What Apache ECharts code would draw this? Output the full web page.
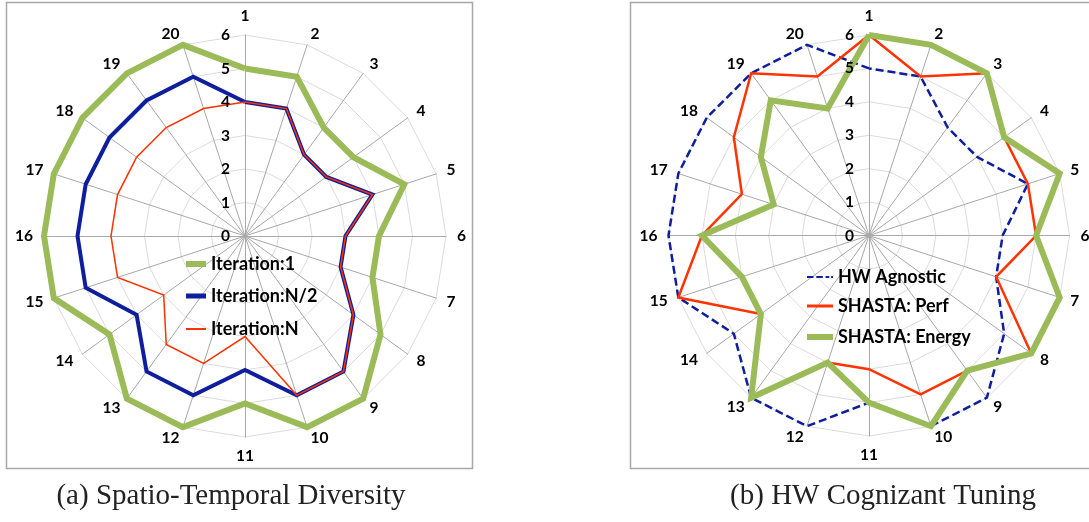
<!DOCTYPE html>
<html><head><meta charset="utf-8">
<script src="https://cdn.jsdelivr.net/npm/echarts@6/dist/echarts.min.js"></script>
<style>html,body{margin:0;padding:0;background:#fff}#c{width:1089px;height:522px}</style>
</head><body><div id="c"></div>
<script>
const categories = ['1','2','3','4','5','6','7','8','9','10','11','12','13','14','15','16','17','18','19','20'];
const radiusTicks = ['0','1','2','3','4','5','6'];
// (a) Spatio-Temporal Diversity
const iteration1    = [5,5,4,4,5,4,4,5,6,6,5,6,6,5,6,6,6,6,6,6];
const iterationHalf = [4,4,3,3,4,3,3,4,5,5,4,5,5,4,5,5,5,5,5,5];
const iterationN    = [4,4,3,3,4,3,3,4,5,5,3,4,4,3,4,4,4,4,4,4];
// (b) HW Cognizant Tuning
const hwAgnostic   = [5,5,4,4,5,4,4,5,6,6,5,6,6,5,6,6,6,6,6,6];
const shastaPerf   = [6,5,6,5,5,5,4,6,5,5,4,4,6,4,6,5,4,5,6,5];
const shastaEnergy = [6,6,6,5,6,5,6,6,5,6,5,4,6,4,4,5,3,4,5,4];
const captions = ['(a) Spatio-Temporal Diversity', '(b) HW Cognizant Tuning'];

// radar runs counter-clockwise; reorder so categories run clockwise from the top
const order = categories.map((_, i) => (categories.length - i) % categories.length);
const reorder = arr => order.map(i => arr[i]);
const indicator = order.map(i => ({ name: categories[i], min: 0, max: 6 }));

const FONT = 'Lato';
const GREEN = '#9BBB59', BLUE = '#0E1E9C', RED = '#FF3300';

function radarCfg(cx, cy, r) {
  return {
    center: [cx, cy], radius: r, startAngle: 90, shape: 'polygon', splitNumber: 6,
    indicator: indicator,
    axisName: { color: '#000', fontFamily: FONT, fontWeight: 'bold', fontSize: 15.5 },
    nameGap: 11,
    axisLine: { lineStyle: { color: '#a8a8a8', width: 1 } },
    splitLine: { lineStyle: { color: '#dcdcdc', width: 1 } },
    splitArea: { show: false },
    axisTick: { show: false }, axisLabel: { show: false }
  };
}
function radiusAxisCfg(idx) {
  return {
    polarIndex: idx, type: 'value', min: 0, max: 6, interval: 1, z: 10,
    axisLine: { show: false }, axisTick: { show: false }, splitLine: { show: false },
    axisLabel: { margin: 15, fontFamily: FONT, fontWeight: 'bold', fontSize: 15.5, color: '#000',
      formatter: v => radiusTicks[Math.round(v)] }
  };
}
function legendCfg(name, left, top, h, icon) {
  return {
    data: [name], left: left, top: top, orient: 'vertical', padding: 0,
    icon: icon || 'rect', itemWidth: 20, itemHeight: h, selectedMode: false,
    textStyle: { fontFamily: FONT, fontWeight: 'bold', fontSize: 18, color: '#000', lineHeight: 20 }
  };
}
function radarSeries(radarIndex, name, values, color, width, type) {
  return {
    type: 'radar', radarIndex: radarIndex, name: name, symbol: 'none', silent: true,
    itemStyle: { color: color },
    lineStyle: { color: color, width: width, type: type || 'solid', join: 'miter' },
    data: [{ value: reorder(values), name: name }]
  };
}

const chart = echarts.init(document.getElementById('c'));
const dashIcon = 'path://M0,0h7v2h-7zM10,0h7v2h-7zM20,0h4v2h-4zM26,0h2v2h-2z';
const captionStyle = { fontFamily: 'Liberation Serif', fontWeight: 'normal', fontSize: 29, color: '#222' };
chart.setOption({
  backgroundColor: '#fff',
  animation: false,
  graphic: [
    { type: 'rect', shape: { x: 6.5, y: 2.5, width: 466, height: 466 }, style: { fill: 'none', stroke: '#a8a8a8', lineWidth: 1.5 }, z: -1 },
    { type: 'rect', shape: { x: 630.5, y: 2.5, width: 470, height: 466 }, style: { fill: 'none', stroke: '#a8a8a8', lineWidth: 1.5 }, z: -1 }
  ],
  title: [
    { text: captions[0], left: 226, top: 477, textAlign: 'center', textStyle: captionStyle },
    { text: captions[1], left: 878, top: 477, textAlign: 'center', textStyle: captionStyle }
  ],
  radar: [radarCfg(245, 236, 201), radarCfg(869, 235.5, 200.5)],
  polar: [{ center: [245, 236], radius: 201 }, { center: [869, 235.5], radius: 200.5 }],
  angleAxis: [
    { polarIndex: 0, type: 'value', min: 0, max: 360, startAngle: 90, show: false },
    { polarIndex: 1, type: 'value', min: 0, max: 360, startAngle: 90, show: false }
  ],
  radiusAxis: [radiusAxisCfg(0), radiusAxisCfg(1)],
  legend: [
    legendCfg('Iteration:1', 186, 254, 6),
    legendCfg('Iteration:N/2', 186, 286, 5),
    legendCfg('Iteration:N', 186, 319, 2),
    Object.assign(legendCfg('HW Agnostic', 807, 267, 2.5, dashIcon), { itemWidth: 26 }),
    Object.assign(legendCfg('SHASTA: Perf', 807, 296, 3), { itemWidth: 26 }),
    Object.assign(legendCfg('SHASTA: Energy', 807, 327, 6), { itemWidth: 26 })
  ],
  series: [
    radarSeries(0, 'Iteration:1', iteration1, GREEN, 6),
    radarSeries(0, 'Iteration:N/2', iterationHalf, BLUE, 4),
    radarSeries(0, 'Iteration:N', iterationN, RED, 1.5),
    radarSeries(1, 'HW Agnostic', hwAgnostic, BLUE, 2.5, [8, 4]),
    radarSeries(1, 'SHASTA: Perf', shastaPerf, RED, 2.5),
    radarSeries(1, 'SHASTA: Energy', shastaEnergy, GREEN, 6)
  ]
});
</script></body></html>
